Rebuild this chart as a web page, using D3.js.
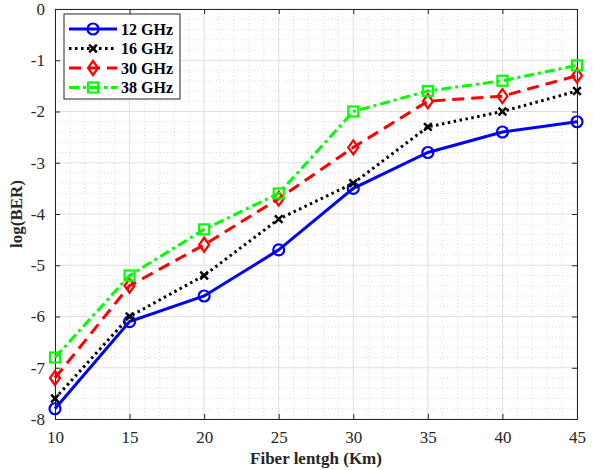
<!DOCTYPE html>
<html><head><meta charset="utf-8">
<script src="https://cdn.jsdelivr.net/npm/d3@7"></script>
<style>body{margin:0;background:#fff}svg{display:block}text{font-family:'Liberation Serif','Times New Roman',serif}</style>
</head><body>
<script>
const fiberLength = [10, 15, 20, 25, 30, 35, 40, 45];
const ber12 = [-7.8, -6.1, -5.6, -4.7, -3.5, -2.8, -2.4, -2.2];
const ber16 = [-7.6, -6.0, -5.2, -4.1, -3.4, -2.3, -2.0, -1.6];
const ber30 = [-7.2, -5.4, -4.6, -3.7, -2.7, -1.8, -1.7, -1.3];
const ber38 = [-6.8, -5.2, -4.3, -3.6, -2.0, -1.6, -1.4, -1.1];
const seriesNames = ["12 GHz", "16 GHz", "30 GHz", "38 GHz"];
const xTicks = [10, 15, 20, 25, 30, 35, 40, 45];
const yTicks = [0, -1, -2, -3, -4, -5, -6, -7, -8];

const W = 594, H = 470;
const m = {l: 55, r: 17, t: 9, b: 51};
const svg = d3.select("body").append("svg").attr("width", W).attr("height", H);
const x = d3.scaleLinear().domain([10, 45]).range([m.l, W - m.r]);
const y = d3.scaleLinear().domain([-8, 0]).range([H - m.b, m.t]);
const font = "'Liberation Serif', 'Times New Roman', serif";

svg.append("rect").attr("x", m.l).attr("y", m.t).attr("width", x(45) - x(10)).attr("height", y(-8) - y(0)).attr("fill", "#fff");

// minor grid
const g = svg.append("g");
d3.range(10, 45.01, 1).forEach(v => {
  if (v % 5 !== 0) g.append("line").attr("x1", x(v)).attr("x2", x(v)).attr("y1", y(0)).attr("y2", y(-8))
    .attr("stroke", "#d0d0d0").attr("stroke-width", 0.8).attr("stroke-dasharray", "1,2.5");
});
d3.range(-8, 0.001, 0.2).forEach(v => {
  const r = Math.round(v * 10) / 10;
  if (Math.abs(r - Math.round(r)) > 0.01) g.append("line").attr("x1", x(10)).attr("x2", x(45)).attr("y1", y(r)).attr("y2", y(r))
    .attr("stroke", "#d0d0d0").attr("stroke-width", 0.8).attr("stroke-dasharray", "1,2.5");
});
// major grid
xTicks.forEach(v => g.append("line").attr("x1", x(v)).attr("x2", x(v)).attr("y1", y(0)).attr("y2", y(-8)).attr("stroke", "#e0e0e0").attr("stroke-width", 1));
yTicks.forEach(v => g.append("line").attr("x1", x(10)).attr("x2", x(45)).attr("y1", y(v)).attr("y2", y(v)).attr("stroke", "#e0e0e0").attr("stroke-width", 1));

// axes
const fmt = d => String(d);
const xAxis = svg.append("g").attr("transform", `translate(0,${y(-8)})`)
  .call(d3.axisBottom(x).tickValues(xTicks).tickSize(-5).tickPadding(12).tickFormat(fmt));
const xAxisTop = svg.append("g").attr("transform", `translate(0,${y(0)})`)
  .call(d3.axisTop(x).tickValues(xTicks).tickSize(-5).tickFormat(""));
const yAxis = svg.append("g").attr("transform", `translate(${x(10)},0)`)
  .call(d3.axisLeft(y).tickValues(yTicks).tickSize(-5).tickPadding(10).tickFormat(fmt));
const yAxisR = svg.append("g").attr("transform", `translate(${x(45)},0)`)
  .call(d3.axisRight(y).tickValues(yTicks).tickSize(-5).tickFormat(""));
[xAxis, xAxisTop, yAxis, yAxisR].forEach(a => {
  a.attr("font-family", null);
  a.select(".domain").attr("stroke", "#262626").attr("stroke-width", 1);
  a.selectAll(".tick line").attr("stroke", "#262626");
  a.selectAll("text").style("font-family", font).attr("font-size", 17).attr("fill", "#262626");
});

// series
const data = [ber12, ber16, ber30, ber38];
const colors = ["#0000ff", "#000000", "#ff0000", "#00ff00"];
const dashes = [null, "2.5,3.5", "12,7", "10,4,3,4"];
const line = d3.line().x((d, i) => x(fiberLength[i])).y(d => y(d));

function marker(sel, k, cx, cy) {
  const c = colors[k];
  if (k === 0) sel.append("circle").attr("cx", cx).attr("cy", cy).attr("r", 5.5).attr("fill", "none").attr("stroke", c).attr("stroke-width", 2.2);
  else if (k === 1) sel.append("path").attr("d", d3.symbol(d3.symbolX, 40)()).attr("transform", `translate(${cx},${cy})`).attr("fill", "none").attr("stroke", c).attr("stroke-width", 2.5);
  else if (k === 2) sel.append("path").attr("d", `M0,-7L5,0L0,7L-5,0Z`).attr("transform", `translate(${cx},${cy})`).attr("fill", "none").attr("stroke", c).attr("stroke-width", 2.2);
  else sel.append("rect").attr("x", cx - 5).attr("y", cy - 5).attr("width", 10).attr("height", 10).attr("fill", "none").attr("stroke", c).attr("stroke-width", 2.2);
}

data.forEach((vals, k) => {
  const sg = svg.append("g");
  sg.append("path").datum(vals).attr("d", line).attr("fill", "none").attr("stroke", colors[k])
    .attr("stroke-width", 3).attr("stroke-dasharray", dashes[k]);
  vals.forEach((v, i) => marker(sg, k, x(fiberLength[i]), y(v)));
});

// legend
const lg = svg.append("g");
lg.append("rect").attr("x", 64).attr("y", 14).attr("width", 116).attr("height", 85).attr("fill", "#fff").attr("stroke", "#262626").attr("stroke-width", 1);
seriesNames.forEach((name, k) => {
  const ly = 29 + k * 19.5;
  lg.append("line").attr("x1", 69).attr("x2", 117).attr("y1", ly).attr("y2", ly).attr("stroke", colors[k]).attr("stroke-width", 3).attr("stroke-dasharray", dashes[k]);
  marker(lg, k, 93, ly);
  lg.append("text").attr("x", 121).attr("y", ly + 5.5).text(name).style("font-family", font).attr("font-weight", "bold").attr("font-size", 16).attr("fill", "#000");
});

// axis labels
svg.append("text").attr("x", (x(10) + x(45)) / 2).attr("y", 464).attr("text-anchor", "middle").text("Fiber lentgh (Km)")
  .style("font-family", font).attr("font-weight", "bold").attr("font-size", 17).attr("fill", "#262626");
svg.append("text").attr("transform", `translate(22,${(y(0) + y(-8)) / 2}) rotate(-90)`).attr("text-anchor", "middle").text("log(BER)")
  .style("font-family", font).attr("font-weight", "bold").attr("font-size", 17).attr("fill", "#262626");
</script>
</body></html>
